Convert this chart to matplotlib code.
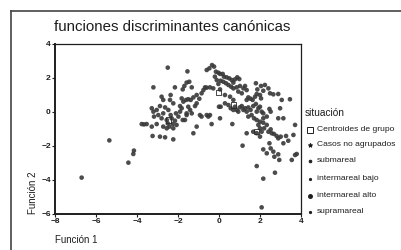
import matplotlib
matplotlib.use("Agg")
import matplotlib.pyplot as plt
from matplotlib.lines import Line2D

## Data

# canonical discriminant scores (funcion 1, funcion 2), one pair per case
func1 = [
    -6.70, -5.35, -4.42, -4.18, -4.15, -3.77, -3.66, -3.53, -3.20, -3.24,
    -2.88, -2.63, -2.23, -2.50, -1.54, -1.25,
    -3.28, -3.20, -3.17, -3.04, -2.96, -2.88, -2.80, -2.72, -2.63, -2.55,
    -2.50, -2.47, -2.42, -2.36, -2.31, -2.26, -2.23, -2.15, -2.10, -2.07,
    -1.98, -1.90, -1.82, -1.77, -1.66, -1.58, -3.28, -3.04, -2.72, -2.55,
    -2.80, -2.72, -2.39, -2.36, -2.23, -1.90,
    -2.15, -1.77, -1.69, -1.58, -1.45, -1.33, -1.82, -1.74, -1.61, -1.50,
    -1.38, -1.25, -1.09, -0.96, -0.85, -0.76, -0.68, -0.60, -1.50, -1.41,
    -1.58, -1.33, -1.17, -1.09, -0.93, -0.85, -0.60, -0.52, -0.44, -1.09,
    -0.36, 0.05, 0.00, 0.65,
    -0.60, -0.47, -0.34, -0.24, -0.15, -0.03, 0.05, 0.18, 0.24, 0.37,
    0.50, 0.62, 0.70, 0.78, 0.89, 0.99, -0.20, -0.11, -0.03, 0.08,
    0.21, 0.34, 0.46, 0.59, 0.70, 0.86, 1.02, 1.27, 1.19, 1.35,
    0.94, 1.11, 0.05, -0.28, -0.44,
    0.08, 0.29, 0.46, 0.57, 0.70, 0.78, 0.86, 0.94, 1.02, 1.11,
    1.19, 1.27, 1.35, 1.43, 1.54, 1.67, 1.80, 1.84, 1.92, 2.00,
    2.08, 2.16, 1.35, 1.43, 1.54, 1.64, 1.76, 1.84, 2.00, 2.05,
    0.29, 0.54, 0.70, 1.43, 1.59, 1.71, 1.84, 2.00, 2.16, 2.33,
    1.80, 1.87, 2.05, 2.16, 2.24, 2.41, 2.49, 2.65, 2.89, 2.98,
    3.06, 3.46, 2.89, 3.14, 2.46, 2.52,
    1.92, 2.00, 2.08, 2.20, 2.33, 2.41, 2.52, 2.57, 2.68, 2.81,
    2.89, 3.01, 3.14, 3.27, 3.38, 1.84, 2.00, 2.16, 1.67, 1.35,
    1.15, 2.16, 2.33, 2.52, 2.46, 2.65, 2.70, 2.89, 2.94, 3.63,
    3.71, 1.84, 2.73, 2.16, 3.55, 3.71, 3.79, 2.08,
]
func2 = [
    -3.86, -1.67, -2.98, -2.47, -2.27, -0.71, -0.73, -0.71, 1.45, -1.41,
    -1.45, -1.49, -1.61, 2.61, 2.39, -1.25,
    0.22, 0.02, -0.27, 0.12, -0.18, 0.35, -0.37, -0.08, 0.27, -0.47,
    -0.67, 0.12, -0.86, -0.18, -0.37, -0.71, -0.96, -0.51, -0.08, -0.76,
    -0.27, 0.02, 0.22, -0.47, -0.47, -0.18, -0.86, -0.71, -0.86, -0.96,
    0.90, 0.71, 0.71, 1.00, 0.51, 0.35,
    1.45, 1.33, 1.53, 1.73, 1.78, 1.45, 0.80, 0.61, 0.71, 0.75,
    0.71, 0.86, 1.00, 0.78, 1.10, 1.29, 1.45, 1.43, 0.31, 0.12,
    -0.08, -0.08, 0.35, 0.51, -0.18, -0.27, -0.18, -0.27, -0.18, -0.86,
    -0.71, -0.37, 0.31, -0.71,
    2.47, 2.57, 2.76, 2.67, 2.37, 2.31, 2.24, 2.24, 2.08, 2.04,
    1.98, 1.88, 1.73, 1.92, 2.04, 1.94, 2.08, 1.88, 1.65, 1.84,
    1.78, 1.69, 1.59, 1.49, 1.39, 1.45, 1.53, 1.53, 1.39, 1.29,
    1.20, 1.10, 1.33, 1.39, 1.45,
    0.31, 0.51, 0.41, 0.22, 0.12, 0.31, 0.12, 0.02, 0.27, 0.35,
    0.12, 0.22, 0.02, 0.27, 0.12, 0.35, 0.47, 0.02, 0.22, 0.31,
    0.02, -0.08, 0.71, 0.86, 0.78, 0.71, 0.90, 1.06, 1.00, 0.80,
    1.00, 0.90, 0.71, -0.27, -0.18, -0.37, -0.47, -0.57, -0.37, -0.27,
    1.69, 1.33, 1.53, 1.25, 1.59, 1.39, 1.10, 1.04, 1.06, 0.22,
    0.71, 0.75, -0.37, -0.37, 0.18, 0.02,
    -0.76, -0.96, -1.16, -0.96, -0.76, -1.16, -1.02, -1.25, -1.29, -1.41,
    -1.55, -1.45, -1.84, -1.41, -1.69, -1.25, -1.45, -0.63, -1.16, -1.25,
    -1.98, -2.20, -2.43, -2.14, -1.84, -2.33, -2.63, -2.49, -2.82, -1.35,
    -0.76, -3.18, -3.57, -3.92, -2.82, -2.53, -2.47, -5.61,
]

# group centroids
cent1 = [-2.47, -0.03, 0.70, 1.84]
cent2 = [-0.47, 1.14, 0.41, -1.16]

legend_title = "situación"
legend_labels = ["Centroides de grupo", "Casos no agrupados", "submareal",
                 "intermareal bajo", "intermareal alto", "supramareal"]

INK = "#1e1e1e"

## Plot

plt.rcParams['font.family'] = ['Liberation Sans', 'DejaVu Sans']

fig = plt.figure(figsize=(4.02, 2.5), dpi=100)
ax = fig.add_axes([55 / 402, 1 - 214 / 250, 246 / 402, 170 / 250])

ax.scatter(func1, func2, s=11, color="#383838", edgecolors="none",
           alpha=0.9, zorder=3)
ax.scatter(cent1, cent2, s=14, marker="s", facecolors="none",
           edgecolors="#2a2a2a", linewidths=0.6, zorder=4)

ax.set_xlim(-8, 4)
ax.set_ylim(-6, 4)
ax.set_xticks(range(-8, 5, 2))
ax.set_yticks(range(-6, 5, 2))
ax.tick_params(length=2, width=0.8, pad=1, labelsize=6, colors=INK)
for lab in ax.get_xticklabels() + ax.get_yticklabels():
    lab.set_fontweight("bold")
for side in ax.spines.values():
    side.set_color(INK)
    side.set_linewidth(0.9)
ax.spines["left"].set_linewidth(1.4)
ax.spines["bottom"].set_linewidth(1.4)

ax.text(-0.09, 0.0, "Función 2", transform=ax.transAxes, rotation=90,
        ha="center", va="bottom", fontsize=7, color=INK)
fig.text(55 / 402, 1 - 240 / 250, "Función 1", ha="left", va="center",
         fontsize=7, color=INK)
fig.text(54 / 402, 1 - 27 / 250, "funciones discriminantes canónicas",
         ha="left", va="center", fontsize=10.8, color=INK)

# legend drawn by hand to sit like the original
fig.text(305 / 402, 1 - 113 / 250, legend_title, ha="left", va="center",
         fontsize=7.3, color=INK)
leg_y = [129.5, 145, 161, 178.5, 195.5, 211.5]
leg_marker = ["s", "*", ".", ".", "o", "."]
leg_size = [3.8, 3.2, 3.8, 3.2, 2.8, 3.2]
for yy, lab, mk, ms in zip(leg_y, legend_labels, leg_marker, leg_size):
    fy = 1 - yy / 250
    filled = mk != "s"
    fig.add_artist(Line2D([310.5 / 402], [fy], marker=mk, markersize=ms,
                          color=INK, markerfacecolor=INK if filled else "none",
                          markeredgewidth=0.7, linestyle="none"))
    fig.text(317 / 402, fy, lab, ha="left", va="center", fontsize=6.1,
             color=INK)

# outer frame of the scanned figure
fig.add_artist(Line2D([11 / 402, 11 / 402], [0, 1 - 11 / 250],
                      color="#444444", linewidth=1.2))
fig.add_artist(Line2D([11 / 402, 1], [1 - 11 / 250, 1 - 11 / 250],
                      color="#444444", linewidth=1.2))

fig.savefig("out.png", dpi=100)
